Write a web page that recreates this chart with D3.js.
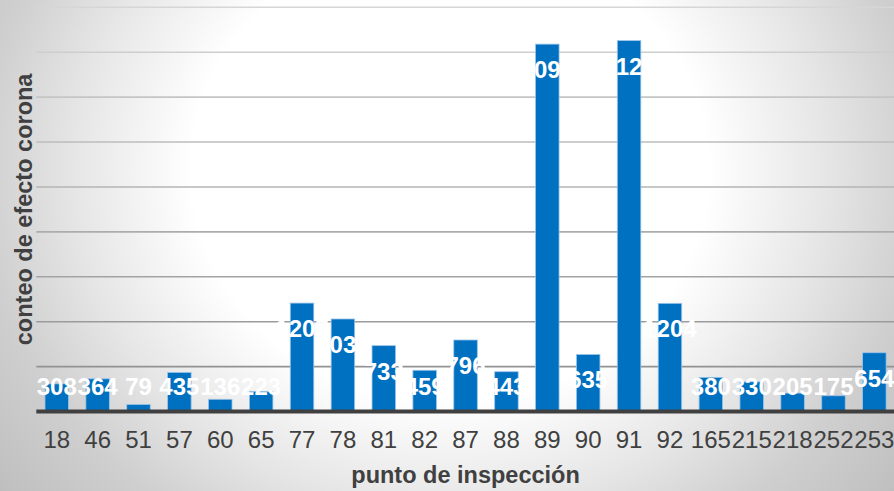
<!DOCTYPE html>
<html>
<head>
<meta charset="utf-8">
<script src="https://cdn.jsdelivr.net/npm/d3@7"></script>
<style>
  html, body { margin: 0; padding: 0; background: #fff; }
  svg { display: block; font-family: "Liberation Sans", Arial, sans-serif; }
</style>
</head>
<body>
<svg id="chart" width="894" height="491"></svg>
<script>
// Inspection points and corona-effect counts
const categories = ["18","46","51","57","60","65","77","78","81","82","87","88","89","90","91","92","165","215","218","252","253"];
const counts = [308,364,79,435,136,223,1207,1030,733,459,796,443,4090,635,4129,1204,380,330,205,175,654];
const yTicks = [0,500,1000,1500,2000,2500,3000,3500,4000,4500];
const xTitle = "punto de inspección";
const yTitle = "conteo de efecto corona";

const W = 894, H = 491;
const margin = { left: 36.3, right: -0.8, top: 7.3, bottom: 79.5 };

const svg = d3.select("#chart");

// Elliptical radial background: white plateau, grey toward the edges
const defs = svg.append("defs");
const rg = defs.append("radialGradient")
  .attr("id", "bg")
  .attr("gradientUnits", "userSpaceOnUse")
  .attr("cx", 0).attr("cy", 0).attr("r", 1)
  .attr("gradientTransform", "translate(450,170) scale(587,525)");
[[0, "#ffffff"], [0.44, "#ffffff"], [0.64, "#e6e6e6"], [0.8, "#cfcfcf"], [1, "#bdbdbd"]]
  .forEach(([o, c]) => rg.append("stop").attr("offset", o).attr("stop-color", c));
svg.append("rect").attr("width", W).attr("height", H).attr("fill", "url(#bg)");

const x = d3.scaleBand()
  .domain(categories)
  .range([margin.left, W - margin.right])
  .paddingInner(0.425)
  .paddingOuter(0.2125);

const y = d3.scaleLinear()
  .domain([0, 4500])
  .range([H - margin.bottom, margin.top]);

// Horizontal gridlines, darker toward the baseline
const gridColor = d3.scaleLinear().domain([4500, 500]).range(["#d6d6d6", "#929292"]);
svg.append("g")
  .selectAll("line")
  .data(yTicks.filter(t => t > 0))
  .join("line")
  .attr("x1", margin.left).attr("x2", W)
  .attr("y1", d => y(d)).attr("y2", d => y(d))
  .attr("stroke", d => gridColor(d))
  .attr("stroke-width", 1.6);

// Bars
svg.append("g")
  .selectAll("rect")
  .data(categories.map((c, i) => ({ c, v: counts[i] })))
  .join("rect")
  .attr("x", d => x(d.c))
  .attr("width", x.bandwidth())
  .attr("y", d => y(d.v))
  .attr("height", d => y(0) - y(d.v))
  .attr("fill", "#0070c0")
  .attr("stroke", "#9cc4e8")
  .attr("stroke-width", 0.8);

// Category axis
const xAxis = d3.axisBottom(x).tickSize(0).tickPadding(0);
const gx = svg.append("g")
  .attr("transform", `translate(0,${y(0)})`)
  .call(xAxis);
gx.select(".domain")
  .attr("d", `M${margin.left},0H${W}`)
  .attr("stroke", "#404040")
  .attr("stroke-width", 4);
gx.selectAll("text")
  .attr("y", 36)
  .attr("dy", 0)
  .attr("fill", "#404040")
  .style("font-size", "24px")
  .style("font-family", "'Liberation Sans', Arial, sans-serif");

// Value labels, white, inside the bar end
svg.append("g")
  .selectAll("text")
  .data(categories.map((c, i) => ({ c, v: counts[i] })))
  .join("text")
  .attr("x", d => x(d.c) + x.bandwidth() / 2)
  .attr("y", d => Math.min(y(d.v) + 34, y(0) - 17))
  .attr("text-anchor", "middle")
  .attr("fill", "#ffffff")
  .style("font-size", "24px")
  .style("font-weight", "bold")
  .text(d => d.v);

// Axis titles
svg.append("text")
  .attr("x", (margin.left + W - margin.right) / 2)
  .attr("y", 483)
  .attr("text-anchor", "middle")
  .attr("fill", "#404040")
  .style("font-size", "23.5px")
  .style("font-weight", "bold")
  .text(xTitle);

svg.append("text")
  .attr("transform", `translate(32,${(y(0) + y(4500)) / 2}) rotate(-90)`)
  .attr("text-anchor", "middle")
  .attr("fill", "#404040")
  .style("font-size", "23.5px")
  .style("font-weight", "bold")
  .text(yTitle);
</script>
</body>
</html>
